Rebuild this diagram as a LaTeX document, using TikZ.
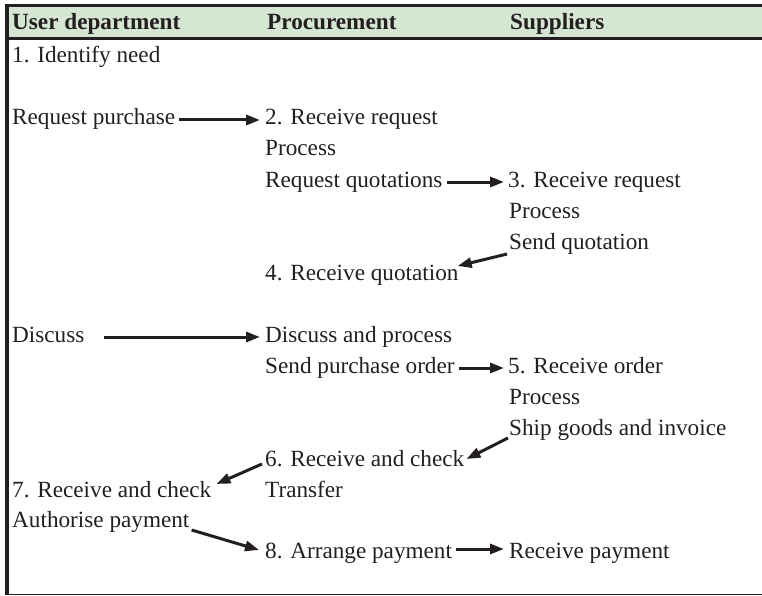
\documentclass[tikz,border=0pt]{standalone}
\usepackage{fontspec}
\setmainfont{Liberation Serif}
\usetikzlibrary{arrows.meta}
\definecolor{ink}{RGB}{35,31,32}
\definecolor{headfill}{RGB}{213,230,211}
\tikzset{
  cell/.style={anchor=base west, inner sep=0pt, text=ink,
    font=\fontsize{23.2pt}{27pt}\selectfont},
  headcell/.style={cell, font=\fontsize{23.2pt}{27pt}\selectfont\bfseries},
  flow/.style={draw=ink, line width=3pt,
    -{Triangle[length=14pt,width=10pt]}},
  rule/.style={draw=ink, line cap=butt}
}
\begin{document}
\begin{tikzpicture}[x=1pt,y=-1pt]
\useasboundingbox (0,0) rectangle (762,596);
% header band and frame
\fill[headfill] (7,5.5) rectangle (762,38.7);
\draw[rule, line width=3.5pt] (4.7,5.5) -- (762,5.5);
\draw[rule, line width=3.5pt] (6.7,38.7) -- (762,38.7);
\draw[rule, line width=4pt] (6.7,3.75) -- (6.7,595.3);
\draw[rule, line width=1.5pt] (4.7,594.5) -- (762,594.5);

% column headings
\node[headcell] (hA) at (12,30) {User department};
\node[headcell] (hB) at (267,30) {Procurement};
\node[headcell] (hC) at (510,30) {Suppliers};

% rows: baseline = 63 + 31*(row-1)
\node[cell] (A1)  at (12,63)  {1. Identify need};
\node[cell] (A3)  at (12,125) {Request purchase};
\node[cell] (B3)  at (265,125) {2. Receive request};
\node[cell] (B4)  at (265,156) {Process};
\node[cell] (B5)  at (265,187) {Request quotations};
\node[cell] (C5)  at (508,187) {3. Receive request};
\node[cell] (C6)  at (509,218) {Process};
\node[cell] (C7)  at (509,249) {Send quotation};
\node[cell] (B8)  at (265,280) {4. Receive quotation};
\node[cell] (A10) at (12,342) {Discuss};
\node[cell] (B10) at (265,342) {Discuss and process};
\node[cell] (B11) at (265,373) {Send purchase order};
\node[cell] (C11) at (508,373) {5. Receive order};
\node[cell] (C12) at (509,404) {Process};
\node[cell] (C13) at (509,435) {Ship goods and invoice};
\node[cell] (B14) at (265,466) {6. Receive and check};
\node[cell] (A15) at (12,497) {7. Receive and check};
\node[cell] (B15) at (265,497) {Transfer};
\node[cell] (A16) at (12,527) {Authorise payment};
\node[cell] (B17) at (265,558) {8. Arrange payment};
\node[cell] (C17) at (509,558) {Receive payment};

% flows between the departments
\draw[flow] ([xshift=4pt,yshift=5pt]A3.base east) -- ([xshift=-5pt,yshift=5pt]B3.base west);
\draw[flow] ([xshift=4pt,yshift=5pt]B5.base east) -- ([xshift=-4pt,yshift=5pt]C5.base west);
\draw[flow] ([xshift=-2pt,yshift=-5pt]C7.base west) -- ([xshift=-1pt,yshift=14pt]B8.base east);
\draw[flow] ([xshift=19pt,yshift=5pt]A10.base east) -- ([xshift=-5pt,yshift=5pt]B10.base west);
\draw[flow] ([xshift=4pt,yshift=5pt]B11.base east) -- ([xshift=-4pt,yshift=5pt]C11.base west);
\draw[flow] ([xshift=-1pt,yshift=-3pt]C13.base west) -- ([xshift=2pt,yshift=7pt]B14.base east);
\draw[flow] ([xshift=-3pt,yshift=2pt]B14.base west) -- ([xshift=5pt,yshift=13pt]A15.base east);
\draw[flow] ([xshift=2pt,yshift=-3pt]A16.base east) -- ([xshift=-6pt,yshift=8pt]B17.base west);
\draw[flow] ([xshift=4pt,yshift=9pt]B17.base east) -- ([xshift=-5pt,yshift=9pt]C17.base west);
\end{tikzpicture}
\end{document}
